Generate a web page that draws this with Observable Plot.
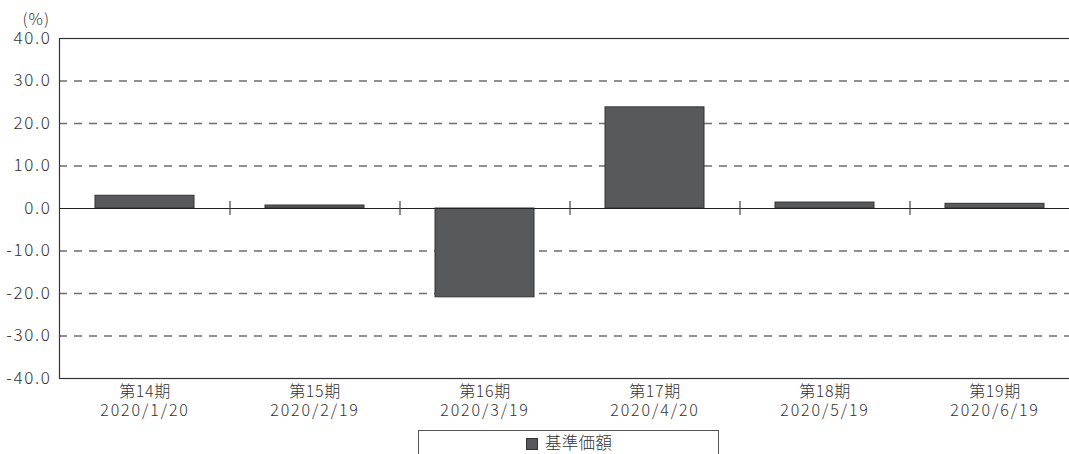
<!DOCTYPE html>
<html>
<head>
<meta charset="utf-8">
<script src="https://cdn.jsdelivr.net/npm/d3@7"></script>
<script src="https://cdn.jsdelivr.net/npm/@observablehq/plot@0.6"></script>
<style>
  html, body { margin: 0; padding: 0; background: #fff; overflow: hidden; }
  #wrap { position: relative; width: 1069px; height: 454px; overflow: hidden;
          font-family: "Noto Sans CJK JP", "Noto Sans", sans-serif; font-weight: 300; color: #333; }
  #legend { position: absolute; left: 418px; top: 430px; width: 301px; height: 40px;
            border: 1px solid #555; box-sizing: border-box; }
  #legend .sw { position: absolute; left: 107px; top: 7px; width: 12px; height: 12px;
                background: #58595b; border: 1px solid #333; box-sizing: border-box; }
  #legend .lb { position: absolute; left: 126px; top: 0px; font-size: 16.5px; line-height: 22px; color: #333; letter-spacing: 0.3px; }
</style>
</head>
<body>
<div id="wrap">
  <div id="chart"></div>
  <div id="legend"><div class="sw"></div><div class="lb">基準価額</div></div>
</div>
<script>
const periods = ["第14期", "第15期", "第16期", "第17期", "第18期", "第19期"];
const dates = ["2020/1/20", "2020/2/19", "2020/3/19", "2020/4/20", "2020/5/19", "2020/6/19"];
const values = [3.0, 0.7, -20.9, 23.8, 1.4, 1.1];
const yTicks = [-40, -30, -20, -10, 0, 10, 20, 30, 40];
const gridLines = [-30, -20, -10, 10, 20, 30];
const unitLabel = "(%)";

const data = periods.map((p, i) => ({period: p, date: dates[i], value: values[i]}));
const font = "'Noto Sans CJK JP', 'Noto Sans', sans-serif";

const chart = Plot.plot({
  width: 1089,
  height: 430,
  marginLeft: 59,
  marginRight: 10,
  marginTop: 38,
  marginBottom: 52,
  style: {fontFamily: font, fontSize: "16px", fontWeight: 300, color: "#333", background: "#fff"},
  x: {domain: periods, paddingInner: 0.42, paddingOuter: 0.21, axis: null},
  y: {axis: null, domain: [-40, 40]},
  marks: [
    Plot.ruleY(gridLines, {stroke: "#6e6e6e", strokeWidth: 1.3, strokeDasharray: "8,7"}),
    Plot.barY(data, {x: "period", y: "value", fill: "#58595b", stroke: "#333", strokeWidth: 1}),
    Plot.ruleY([0], {stroke: "#222", strokeWidth: 1.2}),
    Plot.ruleX(periods.slice(1), {x: d => d, y1: -1.65, y2: 1.65, dx: -85, stroke: "#444", strokeWidth: 1.2}),
    Plot.frame({stroke: "#333", strokeWidth: 1.2}),
    Plot.text(yTicks, {y: d => d, text: d => d.toFixed(1), frameAnchor: "left", textAnchor: "end", dx: -8, fontSize: 17, fill: "#333"}),
    Plot.text(data, {x: "period", text: "period", frameAnchor: "bottom", dy: 18, fontSize: 16, fill: "#333"}),
    Plot.text(data, {x: "period", text: "date", frameAnchor: "bottom", dy: 37, fontSize: 16, fill: "#333"}),
    Plot.text([unitLabel], {text: d => d, frameAnchor: "top-left", textAnchor: "start", dx: -37, dy: -25, fontSize: 16, fill: "#333"})
  ]
});
chart.style.maxWidth = "none";
chart.style.overflow = "visible";
// letter spacing for the text groups (y labels, periods, dates, unit)
const spacings = ["1.6px", "0.6px", "1.9px", "1px"];
d3.select(chart).selectAll("g[aria-label='text']").each(function(_, i) {
  if (spacings[i]) this.style.letterSpacing = spacings[i];
});
document.getElementById("chart").appendChild(chart);
</script>
</body>
</html>
